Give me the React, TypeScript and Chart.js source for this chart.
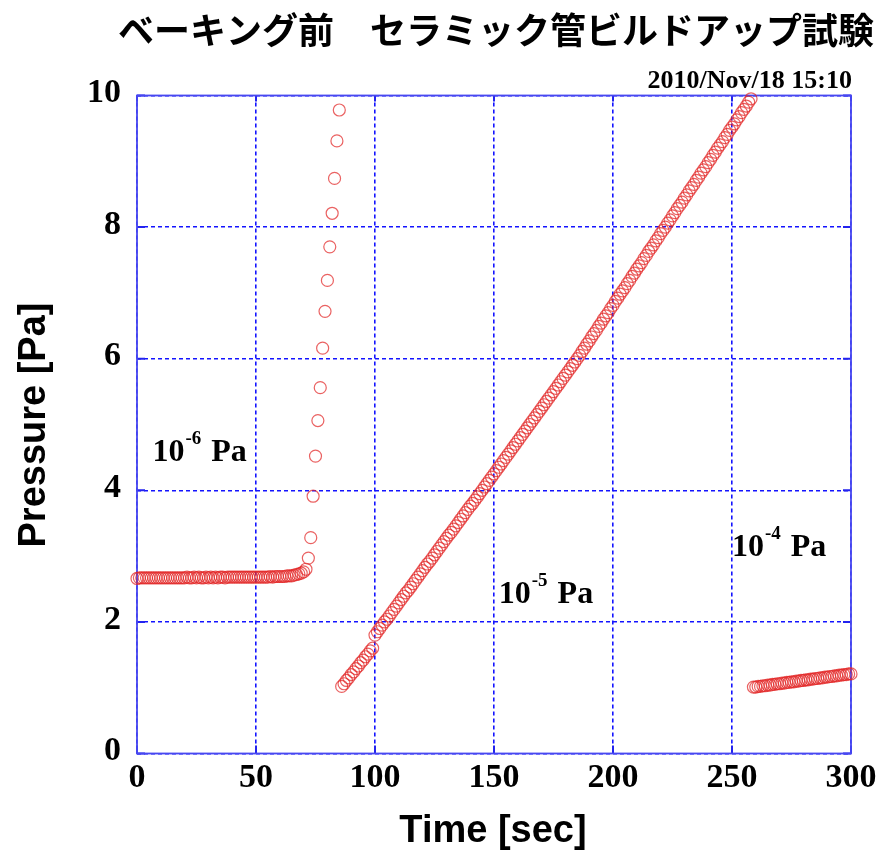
import React, { useEffect, useRef } from "react";
import { Chart, registerables } from "chart.js";

Chart.register(...registerables);

// ---- data -------------------------------------------------------------
const TITLE = "ベーキング前\u3000セラミック管ビルドアップ試験";
const STAMP = "2010/Nov/18 15:10";
const X_TITLE = "Time [sec]";
const Y_TITLE = "Pressure [Pa]";

const X_TICKS = [0, 50, 100, 150, 200, 250, 300];
const Y_TICKS = [0, 2, 4, 6, 8, 10];

// logger samples once per second
const SAMPLE_SEC = 1;

// range 10^-6 Pa, t = 0 .. 69 s
const BASE_START = 0;
const BASE_PRESSURE = [
  2.66, 2.67, 2.67, 2.67, 2.67, 2.67, 2.67, 2.67, 2.67, 2.67,
  2.67, 2.67, 2.67, 2.67, 2.67, 2.67, 2.67, 2.67, 2.67, 2.67,
  2.67, 2.68, 2.67, 2.67, 2.68, 2.67, 2.68, 2.67, 2.67, 2.68,
  2.67, 2.68, 2.67, 2.68, 2.67, 2.68, 2.68, 2.67, 2.68, 2.68,
  2.68, 2.68, 2.68, 2.68, 2.68, 2.68, 2.68, 2.68, 2.68, 2.68,
  2.68, 2.68, 2.68, 2.68, 2.68, 2.68, 2.69, 2.68, 2.69, 2.69,
  2.69, 2.69, 2.69, 2.70, 2.70, 2.70, 2.71, 2.72, 2.73, 2.74,
];

// valve closed, still on the 10^-6 Pa range, t = 70 .. 85 s
const SPIKE_START = 70;
const SPIKE_PRESSURE = [
  2.76, 2.80, 2.97, 3.28, 3.91, 4.52, 5.06, 5.56,
  6.16, 6.72, 7.19, 7.70, 8.21, 8.74, 9.31, 9.78,
];

// range 10^-5 Pa, t = 86 .. 258 s
const RAMP_START = 86;
const RAMP_PRESSURE = [
  1.02, 1.06, 1.11, 1.15, 1.20, 1.24, 1.29, 1.33, 1.38, 1.42,
  1.47, 1.51, 1.56, 1.60, 1.80, 1.85, 1.90, 1.95, 2.00, 2.04,
  2.09, 2.14, 2.19, 2.24, 2.29, 2.34, 2.39, 2.44, 2.48, 2.53,
  2.58, 2.63, 2.68, 2.73, 2.78, 2.83, 2.88, 2.92, 2.97, 3.02,
  3.07, 3.12, 3.17, 3.22, 3.27, 3.32, 3.36, 3.41, 3.46, 3.51,
  3.56, 3.61, 3.66, 3.71, 3.76, 3.80, 3.85, 3.90, 3.95, 4.00,
  4.05, 4.10, 4.15, 4.20, 4.25, 4.30, 4.35, 4.40, 4.45, 4.50,
  4.55, 4.60, 4.65, 4.70, 4.75, 4.80, 4.85, 4.90, 4.95, 5.00,
  5.05, 5.10, 5.15, 5.20, 5.25, 5.30, 5.35, 5.40, 5.45, 5.50,
  5.55, 5.60, 5.65, 5.70, 5.75, 5.80, 5.85, 5.90, 5.95, 6.00,
  6.05, 6.11, 6.16, 6.22, 6.27, 6.33, 6.38, 6.43, 6.49, 6.54,
  6.60, 6.65, 6.70, 6.76, 6.81, 6.87, 6.92, 6.98, 7.03, 7.08,
  7.14, 7.19, 7.25, 7.30, 7.36, 7.41, 7.46, 7.52, 7.57, 7.63,
  7.68, 7.73, 7.79, 7.84, 7.90, 7.95, 8.00, 8.06, 8.11, 8.17,
  8.22, 8.28, 8.33, 8.38, 8.44, 8.49, 8.55, 8.60, 8.65, 8.71,
  8.76, 8.82, 8.87, 8.92, 8.98, 9.03, 9.09, 9.14, 9.20, 9.25,
  9.30, 9.36, 9.41, 9.47, 9.52, 9.57, 9.63, 9.68, 9.74, 9.79,
  9.84, 9.90, 9.95,
];

// range 10^-4 Pa, t = 259 .. 300 s
const TAIL_START = 259;
const TAIL_PRESSURE = [
  1.01, 1.01, 1.02, 1.02, 1.03, 1.03, 1.04, 1.04, 1.05, 1.05,
  1.06, 1.06, 1.07, 1.07, 1.08, 1.08, 1.09, 1.09, 1.10, 1.10,
  1.11, 1.11, 1.12, 1.12, 1.13, 1.13, 1.14, 1.14, 1.15, 1.15,
  1.16, 1.16, 1.17, 1.17, 1.18, 1.18, 1.19, 1.19, 1.20, 1.20,
  1.21, 1.21,
];

// range notes: [mantissa, exponent, x (s), y (Pa)] anchored at baseline-left
const RANGE_NOTES: [string, string, number, number][] = [
  ["10", "-6", 6.5, 4.45],
  ["10", "-5", 152, 2.28],
  ["10", "-4", 250, 3.0],
];

// ---- layout -----------------------------------------------------------
const W = 882;
const H = 854;
const PLOT = { left: 137, right: 851, top: 95.5, bottom: 753.5 };

const SERIF = '"Liberation Serif", "Times New Roman", serif';
const SANS = '"Liberation Sans", Arial, sans-serif';
const CJK = '"Noto Sans CJK JP", "Noto Sans CJK SC", sans-serif';

const runs = [
  { start: BASE_START, values: BASE_PRESSURE },
  { start: SPIKE_START, values: SPIKE_PRESSURE },
  { start: RAMP_START, values: RAMP_PRESSURE },
  { start: TAIL_START, values: TAIL_PRESSURE },
];

const points = runs.flatMap((r) =>
  r.values.map((v, i) => ({ x: r.start + i * SAMPLE_SEC, y: v }))
);

const framePlugin = {
  id: "frameAndText",
  beforeDatasetsDraw(chart: any) {
    const { ctx, chartArea: a, scales } = chart;
    ctx.save();
    ctx.strokeStyle = "#2323ee";
    ctx.lineWidth = 2;
    ctx.beginPath();
    for (const v of X_TICKS) {
      const px = scales.x.getPixelForValue(v);
      ctx.moveTo(px, a.top);
      ctx.lineTo(px, a.top + 6);
      ctx.moveTo(px, a.bottom);
      ctx.lineTo(px, a.bottom - 8);
    }
    for (const v of Y_TICKS) {
      const py = scales.y.getPixelForValue(v);
      ctx.moveTo(a.left, py);
      ctx.lineTo(a.left + 8, py);
      ctx.moveTo(a.right, py);
      ctx.lineTo(a.right - 8, py);
    }
    ctx.stroke();
    ctx.strokeStyle = "#4848f0";
    ctx.lineWidth = 1.8;
    ctx.strokeRect(a.left, a.top, a.right - a.left, a.bottom - a.top);
    ctx.restore();
  },
  afterDraw(chart: any) {
    const { ctx, chartArea: a, scales } = chart;
    ctx.save();
    ctx.fillStyle = "#000";

    // title
    ctx.font = `bold 36px ${CJK}`;
    ctx.textAlign = "center";
    ctx.textBaseline = "middle";
    ctx.fillText(TITLE, 496, 30);

    // time stamp
    ctx.font = `bold 26px ${SERIF}`;
    ctx.textAlign = "right";
    ctx.textBaseline = "alphabetic";
    ctx.fillText(STAMP, 852, 88);

    // tick labels
    ctx.font = `bold 34px ${SERIF}`;
    ctx.textAlign = "center";
    ctx.textBaseline = "top";
    for (const v of X_TICKS) {
      ctx.fillText(String(v), scales.x.getPixelForValue(v), a.bottom + 8);
    }
    ctx.textAlign = "right";
    ctx.textBaseline = "middle";
    for (const v of Y_TICKS) {
      ctx.fillText(String(v), a.left - 16, scales.y.getPixelForValue(v) - 2);
    }

    // axis titles
    ctx.font = `bold 38px ${SANS}`;
    ctx.textAlign = "center";
    ctx.textBaseline = "middle";
    ctx.fillText(X_TITLE, 493, 832);
    ctx.save();
    ctx.translate(35, 425);
    ctx.rotate(-Math.PI / 2);
    ctx.fillText(Y_TITLE, 0, 0);
    ctx.restore();

    // range notes
    ctx.textAlign = "left";
    ctx.textBaseline = "alphabetic";
    for (const [mant, exp, xv, yv] of RANGE_NOTES) {
      let x = scales.x.getPixelForValue(xv);
      const y = scales.y.getPixelForValue(yv);
      ctx.font = `bold 32px ${SERIF}`;
      ctx.fillText(mant, x, y);
      x += ctx.measureText(mant).width + 1;
      ctx.font = `bold 19px ${SERIF}`;
      ctx.fillText(exp, x, y - 17);
      x += ctx.measureText(exp).width + 10;
      ctx.font = `bold 32px ${SERIF}`;
      ctx.fillText("Pa", x, y);
    }
    ctx.restore();
  },
};

export default function App() {
  const canvasRef = useRef<HTMLCanvasElement | null>(null);

  useEffect(() => {
    const canvas = canvasRef.current;
    if (!canvas) return;
    const gridLine = {
      color: "#1414ff",
      lineWidth: 1.6,
      drawTicks: false,
    };
    const chart = new Chart(canvas, {
      type: "scatter",
      data: {
        datasets: [
          {
            data: points,
            showLine: false,
            pointStyle: "circle",
            pointRadius: 6,
            pointBorderWidth: 1.2,
            pointBorderColor: "rgba(226, 38, 38, 0.72)",
            pointBackgroundColor: "rgba(0,0,0,0)",
            clip: false as any,
          },
        ],
      },
      options: {
        animation: false,
        responsive: false,
        devicePixelRatio: 1,
        events: [],
        layout: {
          autoPadding: false,
          padding: {
            left: PLOT.left,
            right: W - PLOT.right,
            top: PLOT.top,
            bottom: H - PLOT.bottom,
          },
        },
        plugins: {
          legend: { display: false },
          title: { display: false },
          tooltip: { enabled: false },
        },
        scales: {
          x: {
            type: "linear",
            min: 0,
            max: 300,
            afterFit: (s: any) => {
              s.height = 0;
            },
            afterBuildTicks: (s: any) => {
              s.ticks = X_TICKS.map((v) => ({ value: v }));
            },
            ticks: { display: false },
            grid: gridLine,
            border: { display: false, dash: [4, 3] },
          },
          y: {
            type: "linear",
            min: 0,
            max: 10,
            afterFit: (s: any) => {
              s.width = 0;
            },
            afterBuildTicks: (s: any) => {
              s.ticks = Y_TICKS.map((v) => ({ value: v }));
            },
            ticks: { display: false },
            grid: gridLine,
            border: { display: false, dash: [4, 3] },
          },
        },
      },
      plugins: [framePlugin],
    });
    return () => chart.destroy();
  }, []);

  return (
    <div
      style={{
        position: "fixed",
        left: 0,
        top: 0,
        width: W,
        height: H,
        background: "#fff",
      }}
    >
      <canvas ref={canvasRef} width={W} height={H} style={{ width: W, height: H }} />
    </div>
  );
}
